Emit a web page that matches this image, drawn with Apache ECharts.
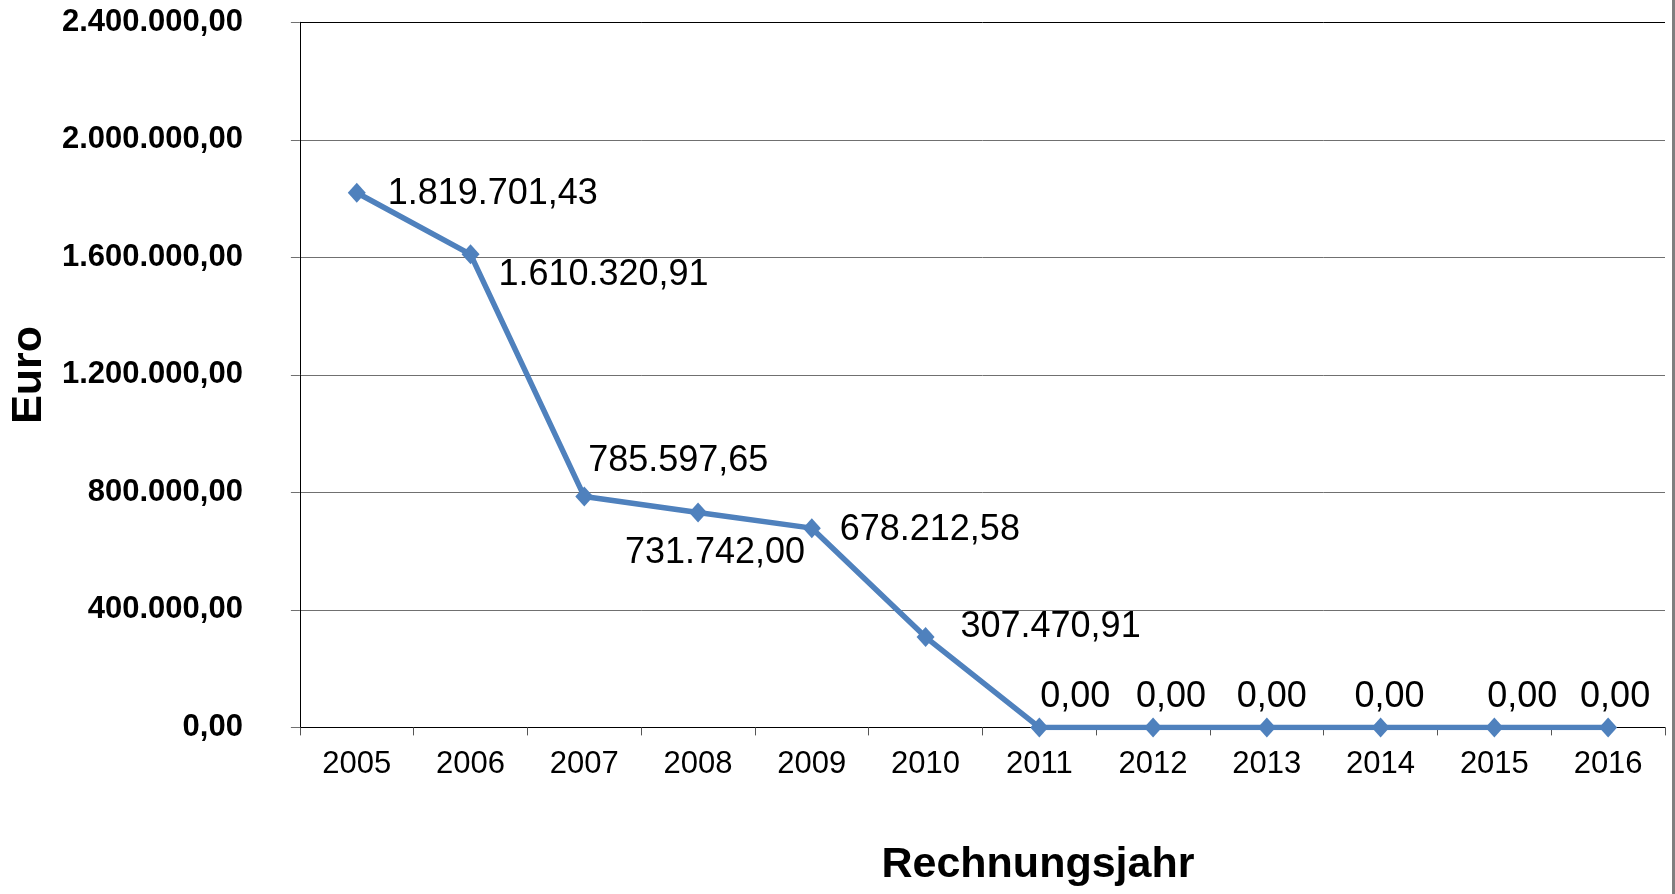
<!DOCTYPE html>
<html>
<head>
<meta charset="utf-8">
<script src="https://cdn.jsdelivr.net/npm/echarts@6/dist/echarts.min.js"></script>
<style>
html,body{margin:0;padding:0;background:#fff;}
#chart{width:1675px;height:894px;}
</style>
</head>
<body>
<div id="chart"></div>
<script>
// ---- data ----
const years = ['2005','2006','2007','2008','2009','2010','2011','2012','2013','2014','2015','2016'];
const euroValues = [1819701.43, 1610320.91, 785597.65, 731742.00, 678212.58, 307470.91, 0, 0, 0, 0, 0, 0];
const yAxisMin = 0;
const yAxisMax = 2400000;
const yAxisStep = 400000;
const xTitle = 'Rechnungsjahr';
const yTitle = 'Euro';

// ---- layout (label placement relative to each point, in px) ----
const labelOffsets = [
  [136, 1], [133, 21], [94, -36], [17, 41], [118, 2], [125, -10],
  [36, -30], [18, -30], [5, -30], [9, -30], [28, -30], [7, -30]
];

function de(v) {
  const s = Math.abs(v).toFixed(2);
  const parts = s.split('.');
  return (v < 0 ? '-' : '') + parts[0].replace(/\B(?=(\d{3})+(?!\d))/g, '.') + ',' + parts[1];
}

const FONT = '"Liberation Sans", Arial, Helvetica, sans-serif';
const chart = echarts.init(document.getElementById('chart'), null, {renderer: 'canvas'});

chart.setOption({
  animation: false,
  backgroundColor: '#ffffff',
  grid: {left: 293, right: 10, top: 22.3, bottom: 166.6, containLabel: false},
  xAxis: {
    type: 'category',
    data: years,
    boundaryGap: true,
    name: xTitle,
    nameLocation: 'middle',
    nameGap: 116,
    nameTextStyle: {fontFamily: FONT, fontSize: 43, fontWeight: 'bold', color: '#000', padding: [0, 0, 0, 111]},
    axisLine: {show: true, lineStyle: {color: '#000', width: 1}},
    axisTick: {show: true, inside: false, length: 8, lineStyle: {color: '#555'}},
    axisLabel: {fontFamily: FONT, fontSize: 31, color: '#000', margin: 22}
  },
  yAxis: {
    type: 'value',
    min: yAxisMin,
    max: yAxisMax,
    interval: yAxisStep,
    name: yTitle,
    nameLocation: 'middle',
    nameGap: 242,
    nameTextStyle: {fontFamily: FONT, fontSize: 43, fontWeight: 'bold', color: '#000'},
    axisLine: {show: true, lineStyle: {color: '#000', width: 1}},
    axisTick: {show: true, inside: false, length: 9, lineStyle: {color: '#707070'}},
    axisLabel: {fontFamily: FONT, fontSize: 31, fontWeight: 'bold', color: '#000', margin: 57, formatter: de},
    splitLine: {show: true, lineStyle: {color: ['#707070','#707070','#707070','#707070','#707070','#707070','#000000'], width: 1}}
  },
  series: [{
    type: 'line',
    data: euroValues.map((v, i) => ({value: v, label: {offset: labelOffsets[i]}})),
    symbol: 'diamond',
    symbolSize: [18, 20],
    showAllSymbol: true,
    lineStyle: {color: '#4F81BD', width: 5.5},
    itemStyle: {color: '#4F81BD'},
    label: {
      show: true,
      position: 'inside',
      align: 'center',
      verticalAlign: 'middle',
      fontFamily: FONT,
      fontSize: 36,
      color: '#000',
      formatter: p => de(p.value)
    },
    z: 3
  }],
  graphic: [{
    type: 'rect',
    shape: {x: 1672, y: 0, width: 3, height: 894},
    style: {fill: '#7f7f7f'},
    silent: true
  }]
});
</script>
</body>
</html>
